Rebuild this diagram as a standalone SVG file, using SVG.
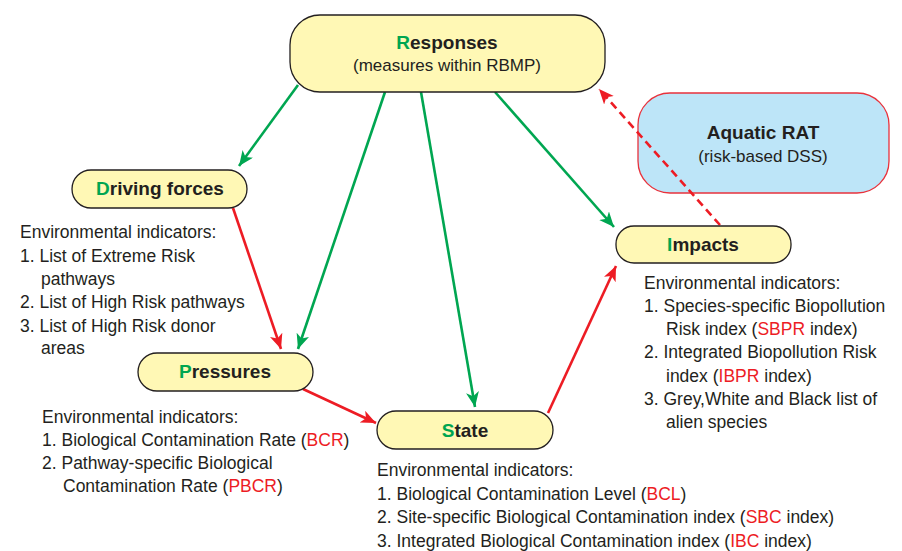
<svg xmlns="http://www.w3.org/2000/svg" width="902" height="551" viewBox="0 0 902 551">
<defs>
<marker id="ag" markerUnits="userSpaceOnUse" markerWidth="17" markerHeight="14" refX="15" refY="6.5" orient="auto"><path d="M0,0 L15,6.5 L0,13 L4,6.5 Z" fill="#00a651"/></marker>
<marker id="ar" markerUnits="userSpaceOnUse" markerWidth="17" markerHeight="14" refX="15" refY="6.5" orient="auto"><path d="M0,0 L15,6.5 L0,13 L4,6.5 Z" fill="#ed1c24"/></marker>
</defs>
<style>
.box{fill:#fff8b5;stroke:#231f20;stroke-width:1.3}
.rat{fill:#bde5f8;stroke:#e8323c;stroke-width:1.3}
.lbl{font-family:"Liberation Sans",Arial,sans-serif;font-weight:bold;font-size:19px;fill:#231f20;text-anchor:middle}
.sub{font-family:"Liberation Sans",Arial,sans-serif;font-size:17px;fill:#231f20;text-anchor:middle}
.g{fill:#00a651}
.t{font-family:"Liberation Sans",Arial,sans-serif;font-size:17.5px;fill:#231f20}
.r{fill:#ed1c24}
.cg{stroke:#00a651;stroke-width:2.6;fill:none}
.cr{stroke:#ed1c24;stroke-width:2.6;fill:none}
</style>
<g id="aquatic-rat">
<rect class="rat" x="638" y="93" width="251" height="100" rx="32"/>
<text class="lbl" x="763" y="139">Aquatic RAT</text>
<text class="sub" x="763" y="162">(risk-based DSS)</text>
</g>
<g id="connectors">
<line class="cg" x1="298" y1="85" x2="239" y2="166" marker-end="url(#ag)"/>
<line class="cg" x1="385" y1="92" x2="298" y2="349" marker-end="url(#ag)"/>
<line class="cg" x1="421" y1="92" x2="475" y2="407" marker-end="url(#ag)"/>
<line class="cg" x1="495" y1="92" x2="614" y2="227" marker-end="url(#ag)"/>
<line class="cr" x1="233" y1="208" x2="281" y2="349" marker-end="url(#ar)"/>
<line class="cr" x1="303" y1="389" x2="376" y2="423" marker-end="url(#ar)"/>
<line class="cr" x1="548" y1="413" x2="616" y2="266" marker-end="url(#ar)"/>
<line class="cr" x1="720" y1="225" x2="599" y2="89" stroke-dasharray="8,5" marker-end="url(#ar)"/>
</g>
<g id="responses">
<rect class="box" x="290" y="15" width="315" height="77" rx="30"/>
<text class="lbl" x="447" y="49"><tspan class="g">R</tspan>esponses</text>
<text class="sub" x="447" y="71">(measures within RBMP)</text>
</g>
<g id="driving-forces">
<rect class="box" x="72" y="170" width="175" height="38" rx="19"/>
<text class="lbl" x="160" y="195"><tspan class="g">D</tspan>riving forces</text>
<text class="t" x="20" y="238">Environmental indicators:</text>
<text class="t" x="20" y="262">1. List of Extreme Risk</text>
<text class="t" x="41" y="285">pathways</text>
<text class="t" x="20" y="308">2. List of High Risk pathways</text>
<text class="t" x="20" y="332">3. List of High Risk donor</text>
<text class="t" x="41" y="354">areas</text>
</g>
<g id="pressures">
<rect class="box" x="138" y="353" width="175" height="38" rx="19"/>
<text class="lbl" x="225" y="378"><tspan class="g">P</tspan>ressures</text>
<text class="t" x="42" y="423">Environmental indicators:</text>
<text class="t" x="42" y="446">1. Biological Contamination Rate (<tspan class="r">BCR</tspan>)</text>
<text class="t" x="42" y="469">2. Pathway-specific Biological</text>
<text class="t" x="63" y="492">Contamination Rate (<tspan class="r">PBCR</tspan>)</text>
</g>
<g id="state">
<rect class="box" x="377" y="411" width="176" height="38" rx="19"/>
<text class="lbl" x="465" y="437"><tspan class="g">S</tspan>tate</text>
<text class="t" x="377" y="476">Environmental indicators:</text>
<text class="t" x="377" y="500">1. Biological Contamination Level (<tspan class="r">BCL</tspan>)</text>
<text class="t" x="377" y="523">2. Site-specific Biological Contamination index (<tspan class="r">SBC</tspan> index)</text>
<text class="t" x="377" y="547">3. Integrated Biological Contamination index (<tspan class="r">IBC</tspan> index)</text>
</g>
<g id="impacts">
<rect class="box" x="616" y="226" width="175" height="37" rx="18"/>
<text class="lbl" x="703" y="251"><tspan class="g">I</tspan>mpacts</text>
<text class="t" x="644" y="289">Environmental indicators:</text>
<text class="t" x="644" y="312">1. Species-specific Biopollution</text>
<text class="t" x="666" y="335">Risk index (<tspan class="r">SBPR</tspan> index)</text>
<text class="t" x="644" y="358">2. Integrated Biopollution Risk</text>
<text class="t" x="666" y="382">index (<tspan class="r">IBPR</tspan> index)</text>
<text class="t" x="644" y="405">3. Grey,White and Black list of</text>
<text class="t" x="666" y="428">alien species</text>
</g>
</svg>
